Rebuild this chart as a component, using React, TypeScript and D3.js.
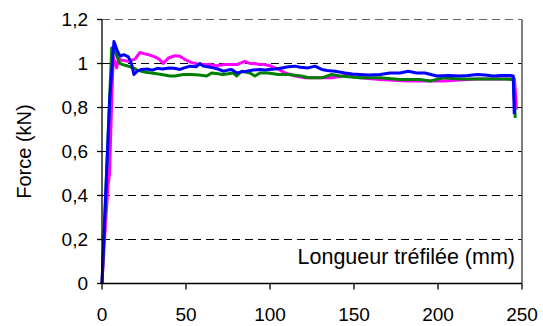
import React from "react";
import * as d3 from "d3";

const xTicks = [0, 50, 100, 150, 200, 250];
const yTicks = [0, 0.2, 0.4, 0.6, 0.8, 1, 1.2];

const blueX = [0, 2, 4.6, 7.1, 9, 10.7, 13, 15.7, 17.5, 19, 21, 23.6, 27, 30, 33, 36, 40, 43, 46.4, 49, 52.4, 56, 58.3, 60.3, 63, 66.3, 69, 72.2, 75, 77.2, 80.2, 83, 86.1, 90, 94, 97, 99, 103, 107, 111, 114.9, 118, 122.8, 126.8, 130.8, 134, 138.7, 144.6, 149, 153.6, 159, 165.5, 171.4, 177.4, 182.3, 187.3, 192.3, 199.2, 206, 213.1, 218, 223, 228, 232.9, 238, 242.9, 244.8, 245.4];
const blueY = [0, 0.37, 0.84, 1.1, 1.06, 1.033, 1.04, 1.03, 1.0, 0.95, 0.965, 0.973, 0.975, 0.97, 0.978, 0.975, 0.98, 0.978, 0.973, 0.98, 0.988, 0.985, 1.0, 0.988, 0.985, 0.98, 0.975, 0.965, 0.97, 0.973, 0.957, 0.962, 0.965, 0.97, 0.973, 0.97, 0.973, 0.975, 0.98, 0.985, 0.988, 0.983, 0.98, 0.988, 0.973, 0.968, 0.965, 0.957, 0.952, 0.95, 0.948, 0.95, 0.957, 0.957, 0.965, 0.957, 0.957, 0.943, 0.945, 0.943, 0.945, 0.95, 0.948, 0.943, 0.945, 0.945, 0.943, 0.77];

const magentaX = [0, 1.5, 3.6, 4.5, 5.8, 6.7, 8.7, 9.7, 12, 15.7, 19.6, 22.6, 25, 27.6, 31.5, 34, 36.5, 39.5, 43.5, 46.4, 49.4, 53, 58.3, 64.3, 68, 73.2, 80.2, 85, 88, 91, 94, 97, 100, 103, 106, 109, 112, 114.9, 120.8, 128.8, 136.7, 144.6, 153.6, 165.5, 181.4, 195, 203, 213, 223, 233, 243, 245.5, 246.8];
const magentaY = [0, 0.2, 0.45, 0.5, 0.84, 1.03, 0.98, 1.02, 1.015, 1.01, 1.02, 1.05, 1.045, 1.04, 1.03, 1.02, 1.0, 1.025, 1.035, 1.033, 1.018, 1.005, 0.995, 0.995, 0.99, 0.995, 0.995, 1.01, 1.0, 1.0, 0.995, 0.995, 0.99, 0.98, 0.97, 0.957, 0.95, 0.943, 0.935, 0.935, 0.935, 0.945, 0.935, 0.927, 0.92, 0.92, 0.92, 0.925, 0.93, 0.93, 0.93, 0.93, 0.79];

const greenX = [0, 2, 4.3, 5.8, 7.7, 9, 10.7, 12.5, 14.7, 18.6, 21, 23.6, 26, 29.6, 35.5, 40.5, 43.5, 48.4, 53, 58, 62.3, 65.3, 68, 72.2, 75, 78.2, 80.2, 83.1, 88.1, 91, 94, 99, 105, 110.9, 118.8, 122.8, 130.8, 136.7, 141.7, 153.6, 165.5, 177.4, 189.3, 195.2, 203.1, 213, 223, 232.9, 240, 244.8, 246];
const greenY = [0, 0.36, 0.8, 1.07, 1.056, 1.03, 1.0, 0.995, 0.99, 0.98, 0.97, 0.965, 0.96, 0.957, 0.95, 0.943, 0.943, 0.95, 0.95, 0.948, 0.943, 0.957, 0.955, 0.95, 0.953, 0.957, 0.943, 0.965, 0.957, 0.943, 0.957, 0.957, 0.95, 0.95, 0.943, 0.935, 0.935, 0.95, 0.943, 0.935, 0.935, 0.927, 0.927, 0.92, 0.935, 0.93, 0.93, 0.93, 0.93, 0.927, 0.753];

const series = [
  { name: "magenta", xs: magentaX, ys: magentaY, color: "#ff00ff" },
  { name: "green", xs: greenX, ys: greenY, color: "#008000" },
  { name: "blue", xs: blueX, ys: blueY, color: "#0000ff" },
];

const W = 543;
const H = 326;
const left = 102;
const right = 522;
const top = 19.5;
const bottom = 283.5;
const font = "'Liberation Sans', Arial, sans-serif";

export default function App() {
  const x = d3.scaleLinear().domain([0, 250]).range([left, right]);
  const y = d3.scaleLinear().domain([0, 1.2]).range([bottom, top]);
  const line = d3
    .line<[number, number]>()
    .x((d) => x(d[0]))
    .y((d) => y(d[1]));

  return (
    <svg
      width={W}
      height={H}
      style={{ position: "absolute", left: 0, top: 0, background: "#fff" }}
      fontFamily={font}
    >
      <rect x={0} y={0} width={W} height={H} fill="#fff" />
      {yTicks.filter((t) => t > 0).map((t) => (
        <line
          key={"g" + t}
          x1={left}
          x2={right}
          y1={y(t)}
          y2={y(t)}
          stroke="#000"
          strokeWidth={1}
          strokeDasharray="8,5"
          opacity={t === 1.2 ? 0.6 : 1}
        />
      ))}
      <line x1={right} x2={right} y1={top} y2={bottom} stroke="#555" strokeWidth={1.5} />
      {series.map((s) => (
        <path
          key={s.name}
          d={line(s.xs.map((v, i) => [v, s.ys[i]] as [number, number])) || ""}
          fill="none"
          stroke={s.color}
          strokeWidth={3}
          strokeLinejoin="round"
        />
      ))}
      <line x1={left} x2={left} y1={top} y2={bottom} stroke="#000" strokeWidth={1.3} />
      <line x1={left} x2={right} y1={bottom} y2={bottom} stroke="#000" strokeWidth={1.3} />
      {yTicks.map((t) => (
        <g key={"y" + t}>
          <line x1={left - 5} x2={left} y1={y(t)} y2={y(t)} stroke="#000" strokeWidth={1.3} />
          <text x={88} y={y(t)} dy="0.35em" textAnchor="end" fontSize={19}>
            {String(t).replace(".", ",")}
          </text>
        </g>
      ))}
      {xTicks.map((t) => (
        <g key={"x" + t}>
          <line x1={x(t)} x2={x(t)} y1={bottom} y2={bottom + 6} stroke="#000" strokeWidth={1.3} />
          <text x={x(t)} y={321} textAnchor="middle" fontSize={19}>
            {t}
          </text>
        </g>
      ))}
      <text
        transform={`translate(31,${(top + bottom) / 2}) rotate(-90)`}
        textAnchor="middle"
        fontSize={20}
      >
        Force (kN)
      </text>
      <text x={515} y={264} textAnchor="end" fontSize={21.5}>
        Longueur tréfilée (mm)
      </text>
    </svg>
  );
}
